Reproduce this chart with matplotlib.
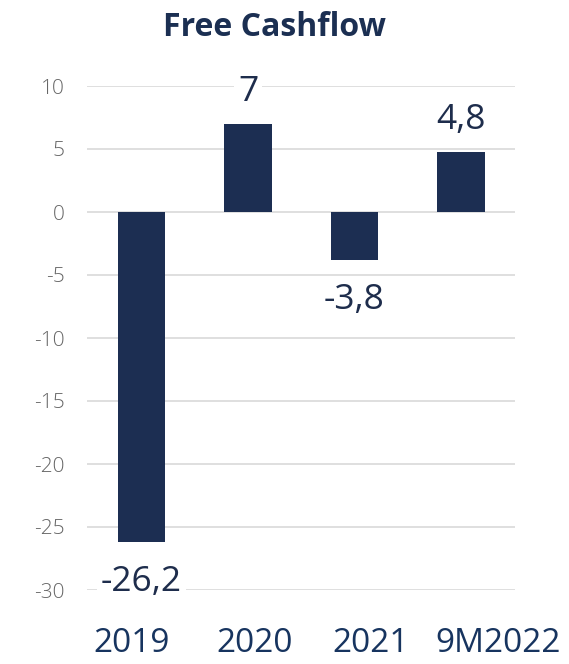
import matplotlib
matplotlib.use("Agg")
import matplotlib.pyplot as plt
import matplotlib.transforms as mtransforms
import numpy as np

categories = ["2019", "2020", "2021", "9M2022"]
values = [-26.2, 7.0, -3.8, 4.8]
value_labels = ["-26,2", "7", "-3,8", "4,8"]
yticks = [10, 5, 0, -5, -10, -15, -20, -25, -30]

plt.rcParams['font.family'] = ['Open Sans', 'DejaVu Sans']

fig = plt.figure(figsize=(5.69, 6.64), dpi=100)
ax = fig.add_axes([87/569, 1-590/664, (515-87)/569, (590-86)/664])

bar_color = "#1c2e52"
x = np.arange(len(categories))
ax.bar(x, values, width=0.45, color=bar_color, zorder=3)

ax.set_xlim(-0.512, 3.507)
ax.set_ylim(-30, 10)
ax.set_yticks(yticks)
ax.set_yticklabels([str(t) for t in yticks], fontsize=15, color="#666666",
                   fontweight='light')
ax.set_xticks(x)
ax.set_xticklabels(categories, fontsize=24, color="#17345f")
ax.tick_params(axis='y', length=0, pad=16)
ax.tick_params(axis='x', length=0, pad=27)
ax.grid(axis='y', color="#d9d9d9", linewidth=1.2, zorder=0)
for s in ax.spines.values():
    s.set_visible(False)

# horizontal shift of the category labels (pixels) to mimic the reference layout
label_shift_px = [-9.5, 7, 16, 37]
for lab, dx in zip(ax.get_xticklabels(), label_shift_px):
    lab.set_transform(lab.get_transform() +
                      mtransforms.ScaledTranslation(dx / 100, 0, fig.dpi_scale_trans))

for xi, v, lab in zip(x, values, value_labels):
    off = 16.5 if v >= 0 else -35.5
    ax.annotate(lab, (xi, v), xytext=(0, off), textcoords='offset points',
                ha='center', va='baseline', fontsize=25.5, color="#1e2d4c",
                bbox=dict(boxstyle='square,pad=0.1', fc='white', ec='none'),
                zorder=4)

fig.text(274/569, 1-28/664, "Free Cashflow", ha='center', va='center',
         fontsize=23, fontweight='bold', color="#1b2f52")

fig.savefig("out.png", dpi=100, facecolor='white')
